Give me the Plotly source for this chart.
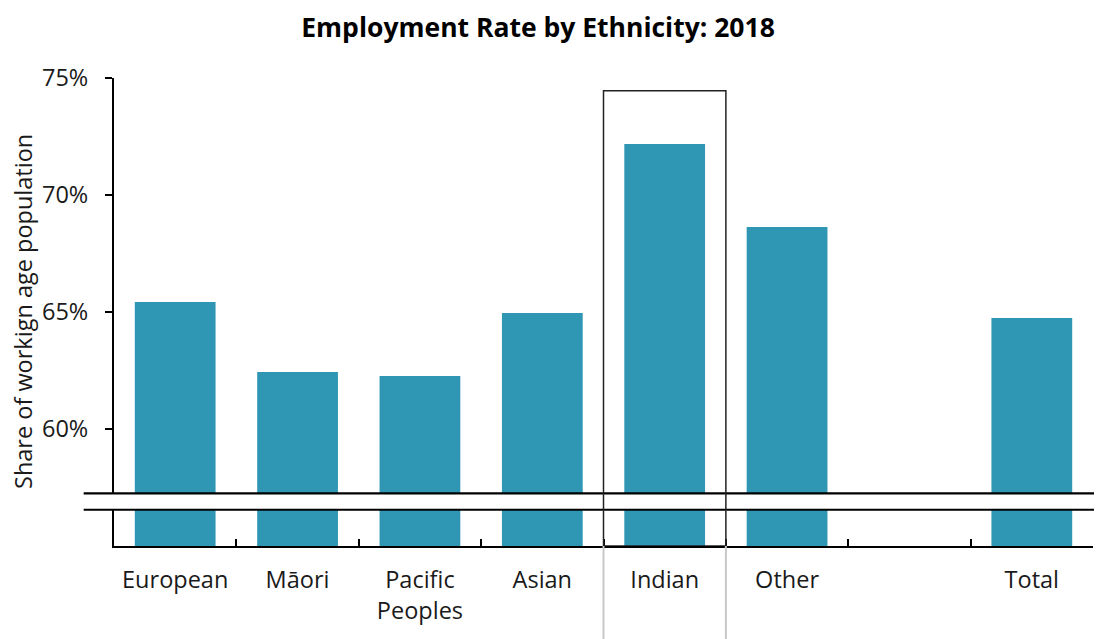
import plotly.graph_objects as go

categories = ["European", "Māori", "Pacific<br>Peoples", "Asian", "Indian", "Other", " ", "Total"]
employment_rate = [65.43, 62.44, 62.26, 64.96, 72.18, 68.63, None, 64.74]
y_tick_values = [60, 65, 70, 75]
y_tick_labels = ["60%", "65%", "70%", "75%"]

BAR_COLOR = "#2f97b4"
FONT = "Open Sans"
Y_MIN, Y_MAX = 55, 75
BREAK_LO, BREAK_HI = 56.55, 57.25
HIGHLIGHT_TOP = 74.45

fig = go.Figure()
fig.add_trace(go.Bar(x=categories, y=employment_rate, marker=dict(color=BAR_COLOR, line=dict(width=0)),
                     hoverinfo="x+y"))

shapes = [
    # white band that hides the axis break
    dict(type="rect", xref="paper", yref="y", x0=-0.031, x1=1.02, y0=BREAK_LO, y1=BREAK_HI,
         fillcolor="white", line=dict(width=0), layer="above"),
    dict(type="line", xref="paper", yref="y", x0=-0.031, x1=1.02, y0=BREAK_HI, y1=BREAK_HI,
         line=dict(color="black", width=2.2), layer="above"),
    dict(type="line", xref="paper", yref="y", x0=-0.031, x1=1.02, y0=BREAK_LO, y1=BREAK_LO,
         line=dict(color="black", width=2.2), layer="above"),
    # highlight box around Indian
    dict(type="rect", xref="x", yref="y", x0=3.5, x1=4.5, y0=Y_MIN, y1=HIGHLIGHT_TOP,
         fillcolor="rgba(0,0,0,0)", line=dict(color="#222", width=1.5), layer="above"),
    dict(type="line", xref="x", yref="paper", x0=3.5, x1=3.5, y0=0, y1=-0.3,
         line=dict(color="#c8c8c8", width=2), layer="above"),
    dict(type="line", xref="x", yref="paper", x0=4.5, x1=4.5, y0=0, y1=-0.3,
         line=dict(color="#c8c8c8", width=2), layer="above"),
]

fig.update_layout(
    width=1094, height=631,
    margin=dict(l=106, r=9, t=70, b=93, autoexpand=False),
    paper_bgcolor="white", plot_bgcolor="white",
    font=dict(family=FONT, color="#1a1a1a", size=23.5),
    bargap=0.34,
    showlegend=False,
    title=dict(text="<b>Employment Rate by Ethnicity: 2018</b>", x=0.4845, xanchor="center",
               y=0.968, yanchor="middle", font=dict(family=FONT, size=26.5, color="#000")),
    shapes=shapes,
    annotations=[dict(text="Share of workign age population", xref="paper", yref="paper",
                      x=0, y=0.5, xshift=-91, xanchor="center", yanchor="middle",
                      textangle=-90, showarrow=False, font=dict(family=FONT, size=23.5, color="#1a1a1a"))],
)

fig.update_xaxes(
    type="category", categoryorder="array", categoryarray=categories,
    range=[-0.5, 7.5], tickson="boundaries", ticks="inside", ticklen=7, tickwidth=2,
    tickcolor="black", showline=True, linecolor="black", linewidth=2, showgrid=False,
    automargin=False,
    ticklabelstandoff=12, tickfont=dict(family=FONT, size=23.5, color="#1a1a1a"), fixedrange=True,
)
fig.update_yaxes(
    range=[Y_MIN, Y_MAX], tickvals=y_tick_values, ticktext=y_tick_labels,
    ticks="outside", ticklen=7, tickwidth=2, tickcolor="black", showline=True,
    linecolor="black", linewidth=2, showgrid=False, zeroline=False, automargin=False,
    tickfont=dict(family=FONT, size=23.5, color="#1a1a1a"), ticklabelstandoff=12,
)

fig.write_html("out.html")
